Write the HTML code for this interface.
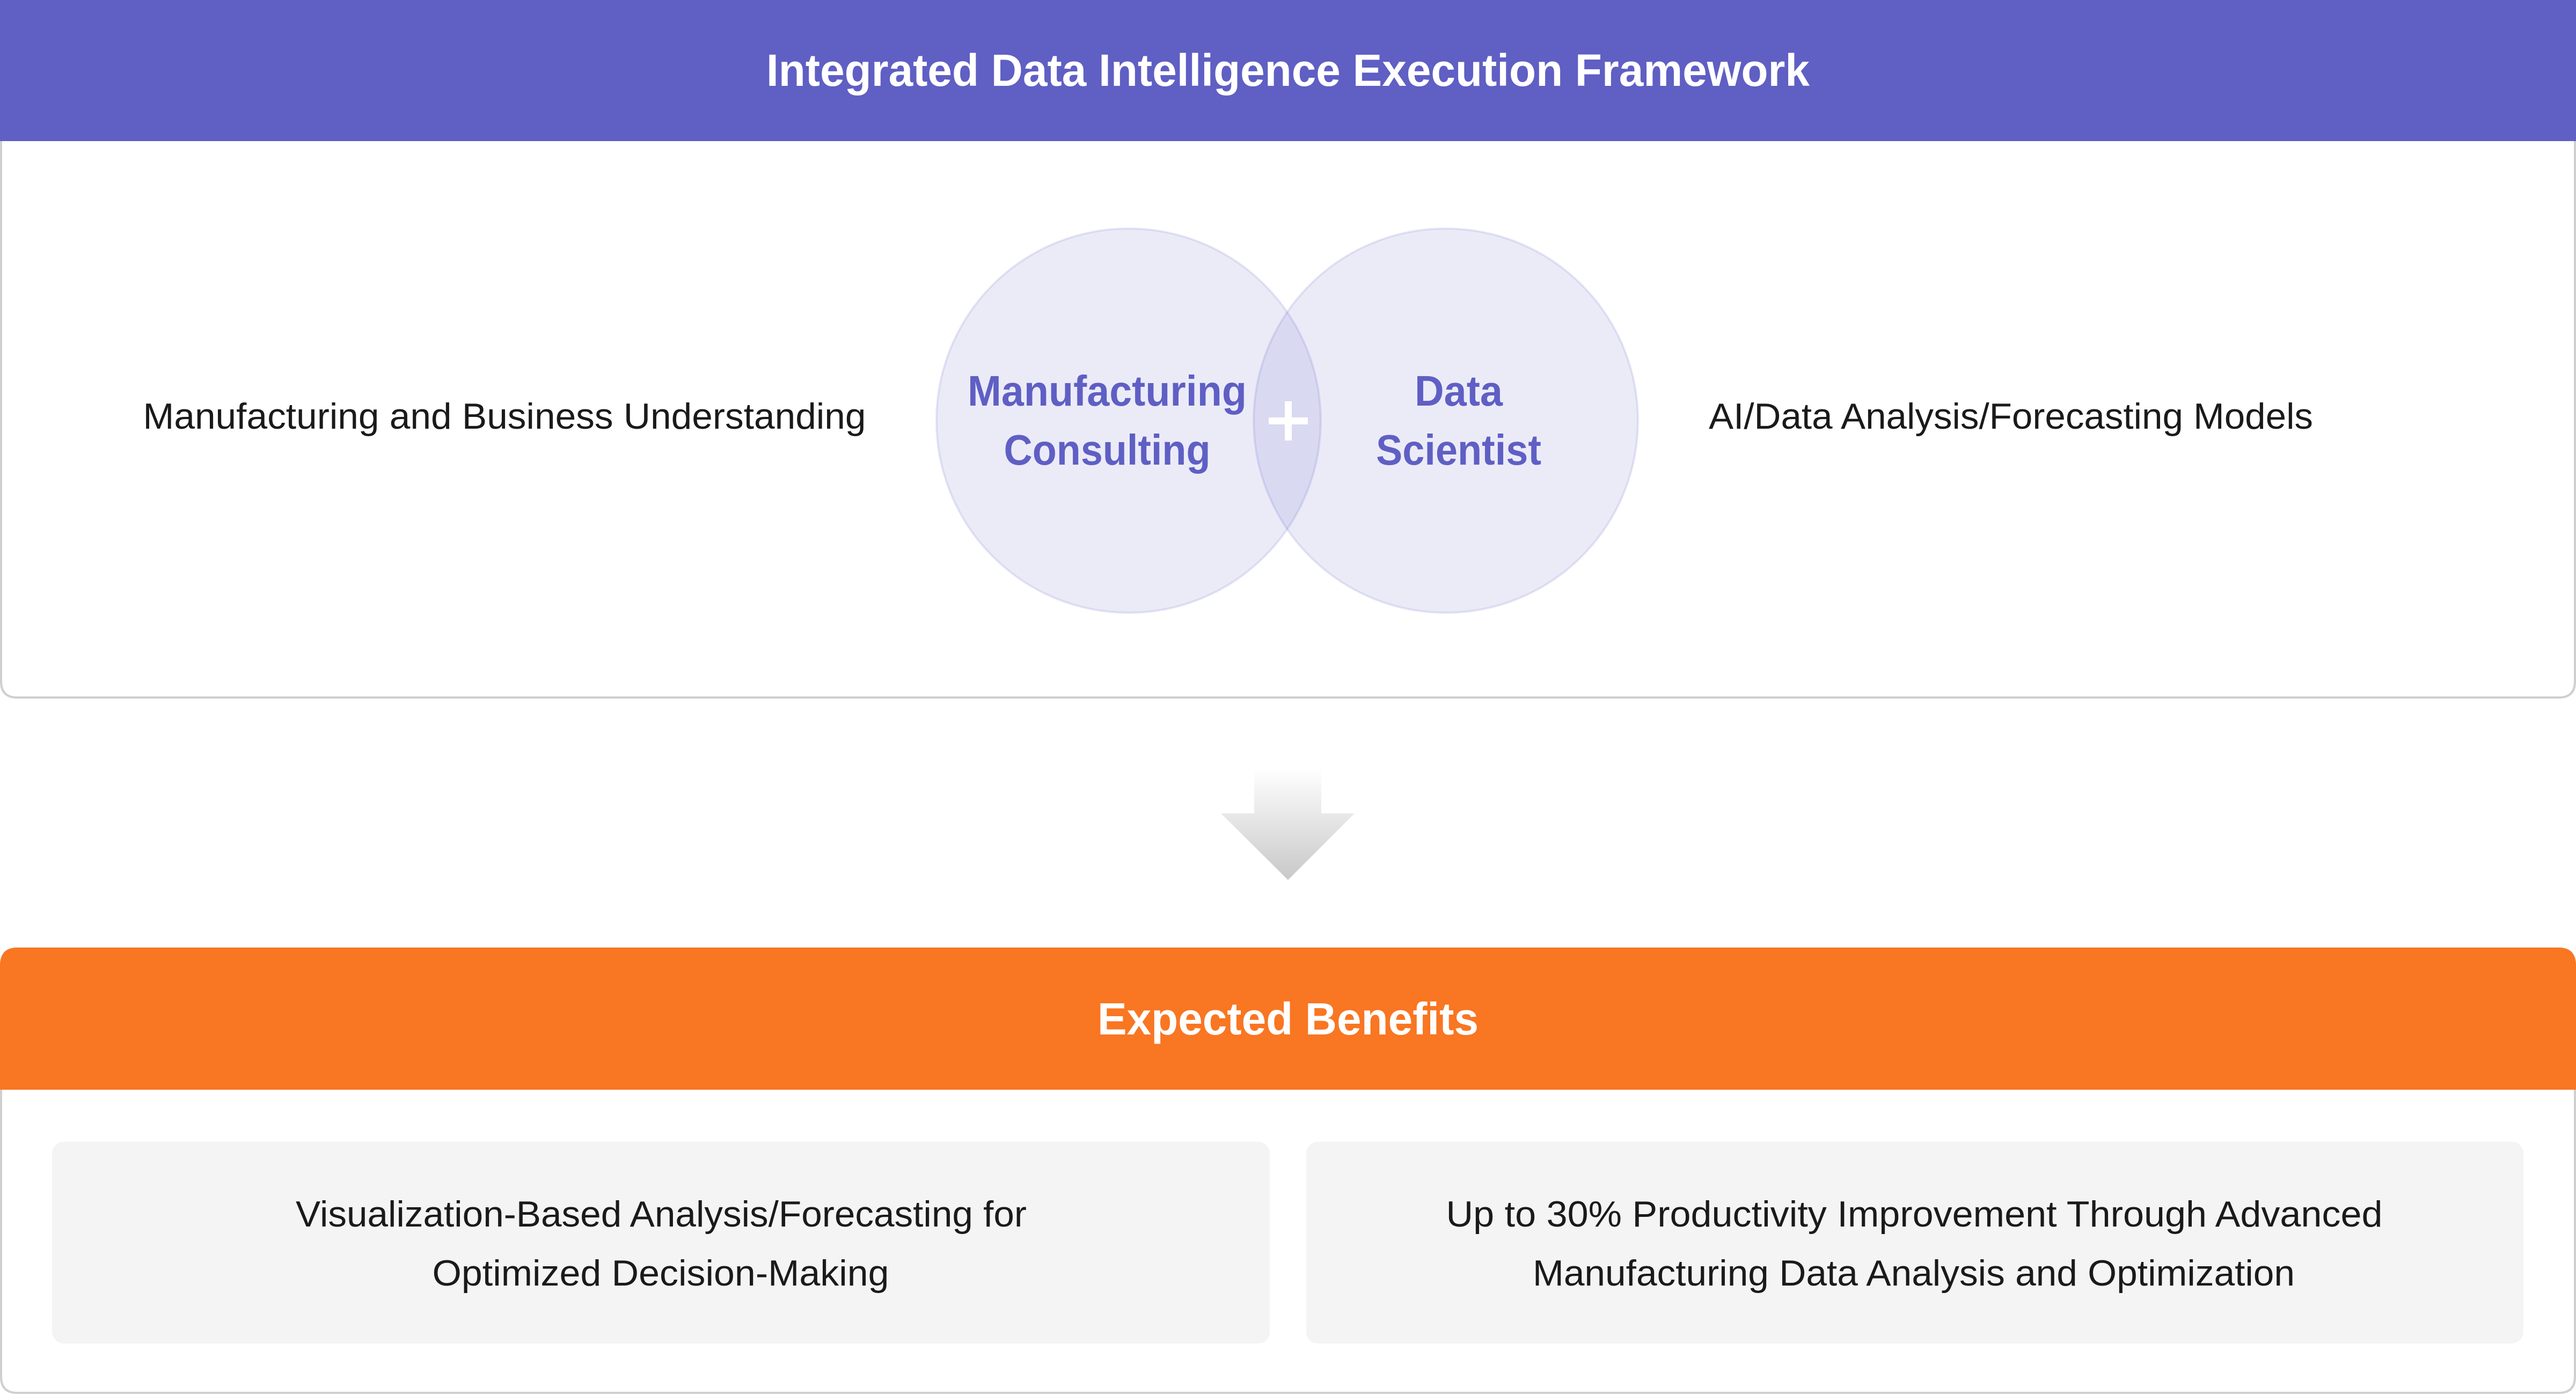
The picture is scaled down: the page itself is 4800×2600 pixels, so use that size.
<!DOCTYPE html>
<html><head><meta charset="utf-8"><style>html,body{margin:0;padding:0;background:#fff}svg{display:block}</style></head>
<body>
<svg xmlns="http://www.w3.org/2000/svg" width="4800" height="2600" viewBox="0 0 4800 2600" font-family="Liberation Sans, sans-serif">
<defs>
<linearGradient id="ag" x1="0" y1="0" x2="0" y2="1">
<stop offset="0" stop-color="#ffffff"/><stop offset="1" stop-color="#c8c8c8"/>
</linearGradient>
</defs>
<!-- top box -->
<path d="M2 0 H4798 V1270 Q4798 1300 4768 1300 H32 Q2 1300 2 1270 Z" fill="#fff" stroke="#cfcfcf" stroke-width="4"/>
<rect x="0" y="0" width="4800" height="263" fill="#5F5FC4"/>
<text x="2400" y="160" text-anchor="middle" font-size="84" font-weight="bold" fill="#fff" textLength="1944" lengthAdjust="spacingAndGlyphs">Integrated Data Intelligence Execution Framework</text>
<text x="940" y="799" text-anchor="middle" font-size="68" fill="#1a1a1a" textLength="1347" lengthAdjust="spacingAndGlyphs">Manufacturing and Business Understanding</text>
<text x="3747" y="799" text-anchor="middle" font-size="68" fill="#1a1a1a" textLength="1126" lengthAdjust="spacingAndGlyphs">AI/Data Analysis/Forecasting Models</text>
<circle cx="2103" cy="784" r="358" fill="#5F5FC4" fill-opacity="0.125" stroke="#5F5FC4" stroke-opacity="0.15" stroke-width="4"/>
<circle cx="2694" cy="784" r="358" fill="#5F5FC4" fill-opacity="0.125" stroke="#5F5FC4" stroke-opacity="0.15" stroke-width="4"/>
<text x="2063" y="756" text-anchor="middle" font-size="80" font-weight="bold" fill="#5F5FC4" textLength="520" lengthAdjust="spacingAndGlyphs">Manufacturing</text>
<text x="2063" y="866" text-anchor="middle" font-size="80" font-weight="bold" fill="#5F5FC4" textLength="385" lengthAdjust="spacingAndGlyphs">Consulting</text>
<text x="2718" y="756" text-anchor="middle" font-size="80" font-weight="bold" fill="#5F5FC4" textLength="164" lengthAdjust="spacingAndGlyphs">Data</text>
<text x="2718" y="866" text-anchor="middle" font-size="80" font-weight="bold" fill="#5F5FC4" textLength="308" lengthAdjust="spacingAndGlyphs">Scientist</text>
<rect x="2364" y="778" width="73" height="13" fill="#fff"/>
<rect x="2394" y="748" width="13" height="73" fill="#fff"/>
<!-- arrow -->
<path d="M2337 1432 H2462 V1516 H2524 L2400 1640 L2275 1516 H2337 Z" fill="url(#ag)"/>
<!-- bottom box -->
<path d="M2 1800 Q2 1768 32 1768 H4768 Q4798 1768 4798 1800 V2566 Q4798 2596 4768 2596 H32 Q2 2596 2 2566 Z" fill="#fff" stroke="#cfcfcf" stroke-width="4"/>
<path d="M0 1800 Q0 1766 32 1766 H4768 Q4800 1766 4800 1800 V2031 H0 Z" fill="#F97622"/>
<text x="2400" y="1928" text-anchor="middle" font-size="84" font-weight="bold" fill="#fff" textLength="710" lengthAdjust="spacingAndGlyphs">Expected Benefits</text>
<rect x="97" y="2128" width="2269" height="376" rx="22" fill="#F4F4F4"/>
<rect x="2434" y="2128" width="2268" height="376" rx="22" fill="#F4F4F4"/>
<text x="1232" y="2286" text-anchor="middle" font-size="68" fill="#1a1a1a" textLength="1362" lengthAdjust="spacingAndGlyphs">Visualization-Based Analysis/Forecasting for</text>
<text x="1231" y="2396" text-anchor="middle" font-size="68" fill="#1a1a1a" textLength="851" lengthAdjust="spacingAndGlyphs">Optimized Decision-Making</text>
<text x="3567" y="2286" text-anchor="middle" font-size="68" fill="#1a1a1a" textLength="1745" lengthAdjust="spacingAndGlyphs">Up to 30% Productivity Improvement Through Advanced</text>
<text x="3566" y="2396" text-anchor="middle" font-size="68" fill="#1a1a1a" textLength="1420" lengthAdjust="spacingAndGlyphs">Manufacturing Data Analysis and Optimization</text>
</svg>
</body></html>
